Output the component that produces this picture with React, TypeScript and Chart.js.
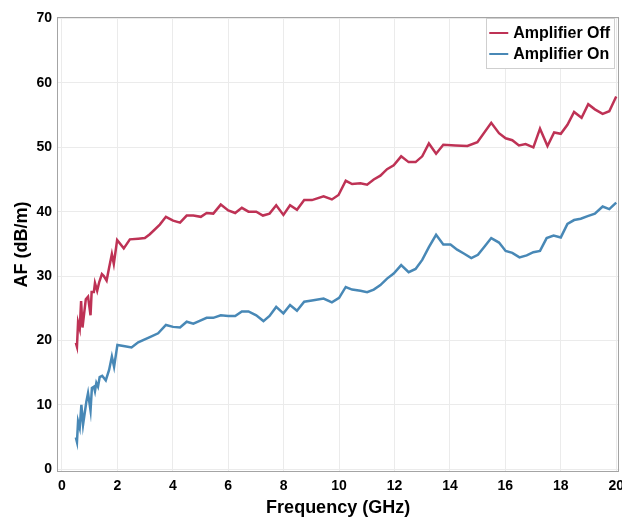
import React, { useEffect, useRef } from "react";
import { Chart, registerables } from "chart.js";

Chart.register(...registerables);

const offFreq = [0.5, 0.54, 0.58, 0.64, 0.69, 0.74, 0.86, 0.94, 1.03, 1.07, 1.15, 1.19, 1.27, 1.34, 1.44, 1.51, 1.61, 1.7, 1.8, 1.87, 1.99, 2.23, 2.45, 2.75, 2.99, 3.17, 3.53, 3.75, 4.01, 4.26, 4.5, 4.74, 5.01, 5.22, 5.46, 5.73, 6.0, 6.25, 6.49, 6.73, 7.01, 7.25, 7.49, 7.73, 7.99, 8.23, 8.48, 8.74, 9.02, 9.44, 9.74, 9.98, 10.24, 10.47, 10.77, 11.01, 11.25, 11.49, 11.73, 11.97, 12.24, 12.51, 12.76, 13.0, 13.24, 13.5, 13.76, 14.2, 14.63, 14.99, 15.49, 15.77, 16.01, 16.25, 16.49, 16.73, 17.01, 17.25, 17.52, 17.76, 18.0, 18.24, 18.48, 18.75, 18.99, 19.23, 19.51, 19.75, 20.0];
const offAF = [19.6, 19.0, 22.8, 21.8, 26.1, 22.0, 26.4, 26.8, 23.9, 27.5, 27.5, 28.9, 27.7, 29.0, 30.3, 30.0, 29.3, 31.3, 33.4, 31.9, 35.6, 34.3, 35.7, 35.8, 35.9, 36.5, 38.0, 39.2, 38.6, 38.3, 39.4, 39.4, 39.2, 39.8, 39.7, 41.1, 40.2, 39.8, 40.6, 40.0, 40.0, 39.4, 39.7, 41.0, 39.5, 41.0, 40.3, 41.8, 41.8, 42.4, 41.9, 42.6, 44.8, 44.3, 44.4, 44.2, 45.0, 45.6, 46.6, 47.2, 48.6, 47.7, 47.7, 48.6, 50.6, 49.0, 50.4, 50.3, 50.2, 50.8, 53.8, 52.2, 51.4, 51.1, 50.3, 50.5, 50.0, 52.9, 50.2, 52.3, 52.1, 53.5, 55.5, 54.6, 56.7, 55.9, 55.2, 55.6, 57.9];

const onFreq = [0.5, 0.54, 0.58, 0.64, 0.7, 0.76, 0.88, 0.94, 1.03, 1.08, 1.15, 1.19, 1.24, 1.3, 1.36, 1.45, 1.58, 1.7, 1.8, 1.88, 2.0, 2.27, 2.51, 2.75, 3.17, 3.47, 3.75, 4.01, 4.26, 4.5, 4.74, 5.01, 5.22, 5.46, 5.73, 6.0, 6.25, 6.49, 6.73, 7.01, 7.27, 7.49, 7.73, 7.99, 8.23, 8.48, 8.74, 9.02, 9.44, 9.74, 10.0, 10.24, 10.47, 10.77, 11.01, 11.25, 11.49, 11.73, 11.97, 12.24, 12.51, 12.76, 13.0, 13.24, 13.5, 13.76, 14.02, 14.26, 14.5, 14.77, 15.01, 15.25, 15.49, 15.77, 16.01, 16.25, 16.51, 16.77, 17.01, 17.25, 17.49, 17.74, 18.0, 18.24, 18.48, 18.72, 18.97, 19.23, 19.51, 19.75, 20.0];
const onAF = [4.9, 4.2, 7.4, 6.4, 10.0, 6.9, 10.5, 11.8, 9.1, 12.6, 12.8, 12.1, 13.4, 12.8, 14.3, 14.5, 13.8, 15.4, 17.5, 15.9, 19.3, 19.1, 18.9, 19.7, 20.5, 21.1, 22.4, 22.1, 22.0, 22.9, 22.6, 23.1, 23.5, 23.5, 23.9, 23.8, 23.8, 24.5, 24.5, 23.9, 23.0, 23.8, 25.2, 24.2, 25.5, 24.6, 26.0, 26.2, 26.5, 25.9, 26.6, 28.3, 27.9, 27.7, 27.5, 27.9, 28.6, 29.6, 30.4, 31.7, 30.6, 31.1, 32.5, 34.5, 36.4, 34.9, 34.9, 34.1, 33.5, 32.8, 33.3, 34.6, 35.9, 35.2, 33.9, 33.6, 32.9, 33.2, 33.7, 33.9, 35.9, 36.3, 36.0, 38.1, 38.7, 38.9, 39.3, 39.7, 40.8, 40.4, 41.4];

const seriesLabels = ["Amplifier Off", "Amplifier On"];
const xTicks = [0, 2, 4, 6, 8, 10, 12, 14, 16, 18, 20];
const yTicks = [0, 10, 20, 30, 40, 50, 60, 70];

const RED = "rgb(190,50,85)";
const BLUE = "rgb(72,136,182)";
const FONT = "'Liberation Sans', Arial, sans-serif";

const framePlugin = {
  id: "frameAndLegend",
  afterDatasetsDraw(chart: any) {
    const { ctx, chartArea } = chart;
    ctx.save();
    ctx.strokeStyle = "#a4a4a4";
    ctx.lineWidth = 1;
    ctx.strokeRect(
      Math.round(chartArea.left) + 0.5,
      Math.round(chartArea.top) + 0.5,
      Math.round(chartArea.right - chartArea.left) - 1,
      Math.round(chartArea.bottom - chartArea.top) - 1
    );
    // legend
    const boxRight = chartArea.right - 5;
    const boxLeft = boxRight - 128;
    const boxTop = chartArea.top + 1;
    const boxH = 50;
    ctx.fillStyle = "#ffffff";
    ctx.fillRect(boxLeft, boxTop, boxRight - boxLeft, boxH);
    ctx.strokeStyle = "#cfcfcf";
    ctx.strokeRect(Math.round(boxLeft) + 0.5, Math.round(boxTop) + 0.5, Math.round(boxRight - boxLeft), boxH);
    const colors = [RED, BLUE];
    ctx.font = "bold 16px " + FONT;
    ctx.textBaseline = "middle";
    ctx.textAlign = "left";
    seriesLabels.forEach((lab, i) => {
      const y = boxTop + 15 + i * 21;
      ctx.strokeStyle = colors[i];
      ctx.lineWidth = 2;
      ctx.beginPath();
      ctx.moveTo(boxLeft + 3, y);
      ctx.lineTo(boxLeft + 22, y);
      ctx.stroke();
      ctx.fillStyle = "#000";
      ctx.fillText(lab, boxLeft + 27, y + 1);
    });
    ctx.restore();
  },
};

export default function App() {
  const ref = useRef<HTMLCanvasElement>(null);
  useEffect(() => {
    const canvas = ref.current;
    if (!canvas) return;
    const chart = new Chart(canvas, {
      type: "line",
      data: {
        datasets: [
          {
            label: seriesLabels[0],
            data: offFreq.map((f, i) => ({ x: f, y: offAF[i] })),
            borderColor: RED,
            backgroundColor: RED,
            borderWidth: 2.5,
            pointRadius: 0,
            tension: 0,
          },
          {
            label: seriesLabels[1],
            data: onFreq.map((f, i) => ({ x: f, y: onAF[i] })),
            borderColor: BLUE,
            backgroundColor: BLUE,
            borderWidth: 2.5,
            pointRadius: 0,
            tension: 0,
          },
        ],
      },
      options: {
        animation: false,
        responsive: false,
        maintainAspectRatio: false,
        layout: { padding: { left: 7, right: 0, top: 17, bottom: 0 } },
        plugins: {
          legend: { display: false },
          tooltip: { enabled: false },
        },
        scales: {
          x: {
            type: "linear",
            min: -0.18,
            max: 20.11,
            afterBuildTicks: (s: any) => {
              s.ticks = xTicks.map((v) => ({ value: v }));
            },
            afterFit: (s: any) => {
              s.height = 47;
            },
            grid: { color: "#ebebeb", lineWidth: 1, drawTicks: false },
            border: { display: false },
            ticks: {
              padding: 6,
              color: "#000",
              font: { family: FONT, size: 14, weight: "bold" },
              maxRotation: 0,
              autoSkip: false,
            },
            title: {
              display: true,
              text: "Frequency (GHz)",
              color: "#000",
              font: { family: FONT, size: 18, weight: "bold" },
              padding: { top: 2, bottom: 0 },
            },
          },
          y: {
            type: "linear",
            min: -0.45,
            max: 70.25,
            afterBuildTicks: (s: any) => {
              s.ticks = yTicks.map((v) => ({ value: v }));
            },
            afterFit: (s: any) => {
              s.width = 50;
            },
            grid: { color: "#ebebeb", lineWidth: 1, drawTicks: false },
            border: { display: false },
            ticks: {
              padding: 5,
              color: "#000",
              font: { family: FONT, size: 14, weight: "bold" },
              autoSkip: false,
            },
            title: {
              display: true,
              text: "AF (dB/m)",
              color: "#000",
              font: { family: FONT, size: 18, weight: "bold" },
              padding: { top: 4, bottom: 0 },
            },
          },
        },
      },
      plugins: [framePlugin],
    } as any);
    return () => chart.destroy();
  }, []);
  return (
    <div style={{ position: "absolute", left: 0, top: 0, width: 622, height: 519, overflow: "hidden", background: "#fff" }}>
      <canvas ref={ref} width={630} height={519} style={{ display: "block", width: 630, height: 519 }} />
    </div>
  );
}
